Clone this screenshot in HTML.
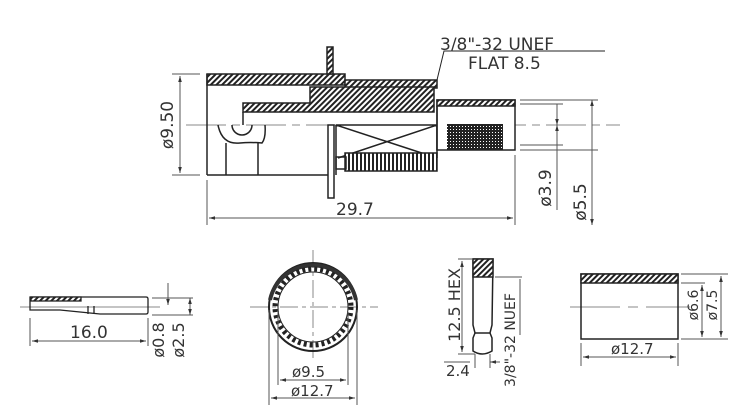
<!DOCTYPE html>
<html><head><meta charset="utf-8"><style>
html,body{margin:0;padding:0;background:#fff;width:750px;height:415px;overflow:hidden}
svg{display:block}
text{font-family:"DejaVu Sans","Liberation Sans",sans-serif;fill:#333}
</style></head><body>
<svg width="750" height="415" viewBox="0 0 750 415" xmlns="http://www.w3.org/2000/svg">
<defs>
<pattern id="h" width="4" height="4" patternUnits="userSpaceOnUse" patternTransform="rotate(45)">
<rect width="4" height="4" fill="#fff"/><rect width="2" height="4" fill="#222"/></pattern>
<pattern id="k" width="3" height="3" patternUnits="userSpaceOnUse">
<rect width="3" height="3" fill="#222"/><rect width="1" height="1" fill="#fff"/></pattern>
<pattern id="s" width="4" height="4" patternUnits="userSpaceOnUse">
<rect width="4" height="4" fill="#fff"/><rect width="2" height="4" fill="#222"/></pattern>
<marker id="a" viewBox="0 0 10 10" refX="10" refY="5" markerWidth="6" markerHeight="6" orient="auto-start-reverse"><path d="M0,2 L10,5 L0,8z" fill="#333"/></marker>
</defs>
<g stroke="#222" stroke-width="1.5" fill="none">
<line x1="186" y1="125" x2="620" y2="125" stroke="#888" stroke-width="1" stroke-dasharray="40,6,8,6"/>
<rect x="207" y="74" width="138" height="11" fill="url(#h)"/>
<rect x="327" y="47" width="6" height="27" fill="url(#h)"/>
<rect x="345" y="80" width="92" height="8" fill="url(#h)"/>
<path d="M243,103 H310 V87 H434 V112 H243Z" fill="url(#h)"/>
<line x1="207" y1="74" x2="207" y2="175"/>
<line x1="207" y1="175" x2="333" y2="175"/>
<line x1="243" y1="112" x2="243" y2="125"/>
<path d="M218,125 Q222,145 240,143 Q250,142 262,143 Q266,138 265,125"/>
<path d="M232,125 A10,10 0 0 0 252,125"/>
<line x1="226" y1="143" x2="226" y2="175"/><line x1="258" y1="143" x2="258" y2="175"/>
<rect x="328" y="125" width="6" height="73" fill="#fff"/>
<path d="M336,125 H437 V158 M336,125 L437,158 M338,158 L437,125 M336,125 V175"/>
<rect x="345" y="153" width="92" height="18" fill="url(#s)"/>
<rect x="336" y="157" width="10" height="12"/>
<rect x="437" y="100" width="78" height="50" fill="#fff"/>
<rect x="437" y="100" width="78" height="6" fill="url(#h)"/>
<rect x="447" y="124" width="56" height="26" fill="url(#k)" stroke="none"/>
<line x1="437" y1="106" x2="437" y2="150"/>
<path d="M437,80 L444,51 H605" stroke-width="1"/>
</g>
<g stroke="#555" stroke-width="1" fill="none">
<line x1="172" y1="74" x2="200" y2="74"/><line x1="172" y1="175" x2="200" y2="175"/>
<line x1="180" y1="76" x2="180" y2="173" marker-start="url(#a)" marker-end="url(#a)"/>
<line x1="207" y1="180" x2="207" y2="225"/><line x1="515" y1="155" x2="515" y2="225"/>
<line x1="209" y1="218" x2="513" y2="218" marker-start="url(#a)" marker-end="url(#a)"/>
<line x1="520" y1="100" x2="598" y2="100"/><line x1="520" y1="104" x2="563" y2="104"/>
<line x1="520" y1="145" x2="563" y2="145"/><line x1="520" y1="150" x2="598" y2="150"/>
<line x1="557" y1="104" x2="557" y2="125" marker-end="url(#a)"/>
<line x1="557" y1="125" x2="557" y2="210" marker-start="url(#a)"/>
<line x1="592" y1="100" x2="592" y2="125" marker-start="url(#a)"/>
<line x1="592" y1="125" x2="592" y2="225" marker-end="url(#a)" />
</g>
<text x="440" y="50" font-size="17">3/8"-32 UNEF</text>
<text x="468" y="69" font-size="17">FLAT 8.5</text>
<text x="336" y="215" font-size="17">29.7</text>
<text transform="translate(173,125) rotate(-90)" font-size="17" text-anchor="middle">ø9.50</text>
<text transform="translate(551,188) rotate(-90)" font-size="17" text-anchor="middle">ø3.9</text>
<text transform="translate(586,202) rotate(-90)" font-size="17" text-anchor="middle">ø5.5</text>

<g stroke="#222" stroke-width="1.3" fill="none">
<line x1="20" y1="307" x2="160" y2="307" stroke="#888" stroke-width="1"/>
<path d="M30,297 H146 Q148,297 148,299 V312 Q148,314 146,314 H100 L60,310 H30Z"/>
<rect x="31" y="297" width="50" height="4" fill="url(#h)"/>
<path d="M88,306 V314 M94,306 V314"/>
</g>
<g stroke="#555" stroke-width="1" fill="none">
<line x1="30" y1="318" x2="30" y2="346"/><line x1="148" y1="318" x2="148" y2="346"/>
<line x1="32" y1="341" x2="146" y2="341" marker-start="url(#a)" marker-end="url(#a)"/>
<line x1="152" y1="298" x2="193" y2="298"/><line x1="152" y1="315" x2="193" y2="315"/>
<line x1="168" y1="283" x2="168" y2="305" marker-end="url(#a)"/>
<line x1="190" y1="298" x2="190" y2="315" marker-start="url(#a)" marker-end="url(#a)"/>
</g>
<text x="70" y="338" font-size="17">16.0</text>
<text transform="translate(164,340) rotate(-90)" font-size="16" text-anchor="middle">ø0.8</text>
<text transform="translate(184,340) rotate(-90)" font-size="16" text-anchor="middle">ø2.5</text>

<g fill="none">
<line x1="250" y1="307" x2="378" y2="307" stroke="#888" stroke-dasharray="18,4,4,4"/>
<line x1="313" y1="250" x2="313" y2="360" stroke="#888" stroke-dasharray="18,4,4,4"/>
<circle cx="313" cy="307" r="44" stroke="#222" stroke-width="2"/>
<path d="M270,300 A44,44 0 0 1 356,300" stroke="#333" stroke-width="4"/>
<circle cx="313" cy="307" r="38" stroke="#222" stroke-width="5" stroke-dasharray="3,3"/>
<circle cx="313" cy="307" r="35" stroke="#222" stroke-width="1"/>
<g stroke="#555" stroke-width="1">
<line x1="278" y1="312" x2="278" y2="385"/><line x1="348" y1="312" x2="348" y2="385"/>
<line x1="269" y1="310" x2="269" y2="405"/><line x1="357" y1="310" x2="357" y2="405"/>
<line x1="280" y1="380" x2="346" y2="380" marker-start="url(#a)" marker-end="url(#a)"/>
<line x1="271" y1="398" x2="355" y2="398" marker-start="url(#a)" marker-end="url(#a)"/>
</g></g>
<text x="292" y="377" font-size="15">ø9.5</text>
<text x="291" y="396" font-size="15">ø12.7</text>

<g stroke="#222" stroke-width="1.5" fill="none">
<path d="M473,259 H493 L492,325 L490,333 L492,338 V351 Q482,357 473,351 V338 L475,333 L473,325 Z" fill="#fff"/>
<rect x="473" y="259" width="20" height="18" fill="url(#h)"/>
<path d="M475,333 H490"/>
</g>
<g stroke="#555" stroke-width="1" fill="none">
<line x1="458" y1="259" x2="473" y2="259"/><line x1="458" y1="354" x2="475" y2="354"/>
<line x1="462" y1="261" x2="462" y2="352" marker-start="url(#a)" marker-end="url(#a)"/>
<line x1="495" y1="277" x2="522" y2="277"/><line x1="520" y1="279" x2="520" y2="335"/>
<line x1="444" y1="362" x2="470" y2="362"/><line x1="475" y1="354" x2="475" y2="368"/><line x1="490" y1="354" x2="490" y2="368"/>
<line x1="490" y1="362" x2="500" y2="362" marker-start="url(#a)"/>
</g>
<text transform="translate(460,305) rotate(-90)" font-size="16" text-anchor="middle">12.5 HEX</text>
<text x="446" y="376" font-size="15">2.4</text>
<text transform="translate(515,340) rotate(-90)" font-size="14" text-anchor="middle">3/8"-32 NUEF</text>

<g stroke="#222" stroke-width="1.5" fill="none">
<line x1="570" y1="307" x2="690" y2="307" stroke="#888" stroke-width="1" stroke-dasharray="50,8,10,8"/>
<rect x="581" y="274" width="97" height="65"/>
<rect x="581" y="274" width="97" height="9" fill="url(#h)"/>
</g>
<g stroke="#555" stroke-width="1" fill="none">
<line x1="681" y1="274" x2="728" y2="274"/><line x1="681" y1="339" x2="728" y2="339"/>
<line x1="681" y1="283" x2="705" y2="283"/>
<line x1="702" y1="285" x2="702" y2="337" marker-start="url(#a)" marker-end="url(#a)"/>
<line x1="721" y1="276" x2="721" y2="337" marker-start="url(#a)" marker-end="url(#a)"/>
<line x1="581" y1="343" x2="581" y2="366"/><line x1="678" y1="343" x2="678" y2="366"/>
<line x1="583" y1="357" x2="676" y2="357" marker-start="url(#a)" marker-end="url(#a)"/>
</g>
<text x="611" y="354" font-size="15">ø12.7</text>
<text transform="translate(698,305) rotate(-90)" font-size="14" text-anchor="middle">ø6.6</text>
<text transform="translate(717,305) rotate(-90)" font-size="14" text-anchor="middle">ø7.5</text>
</svg>
</body></html>
